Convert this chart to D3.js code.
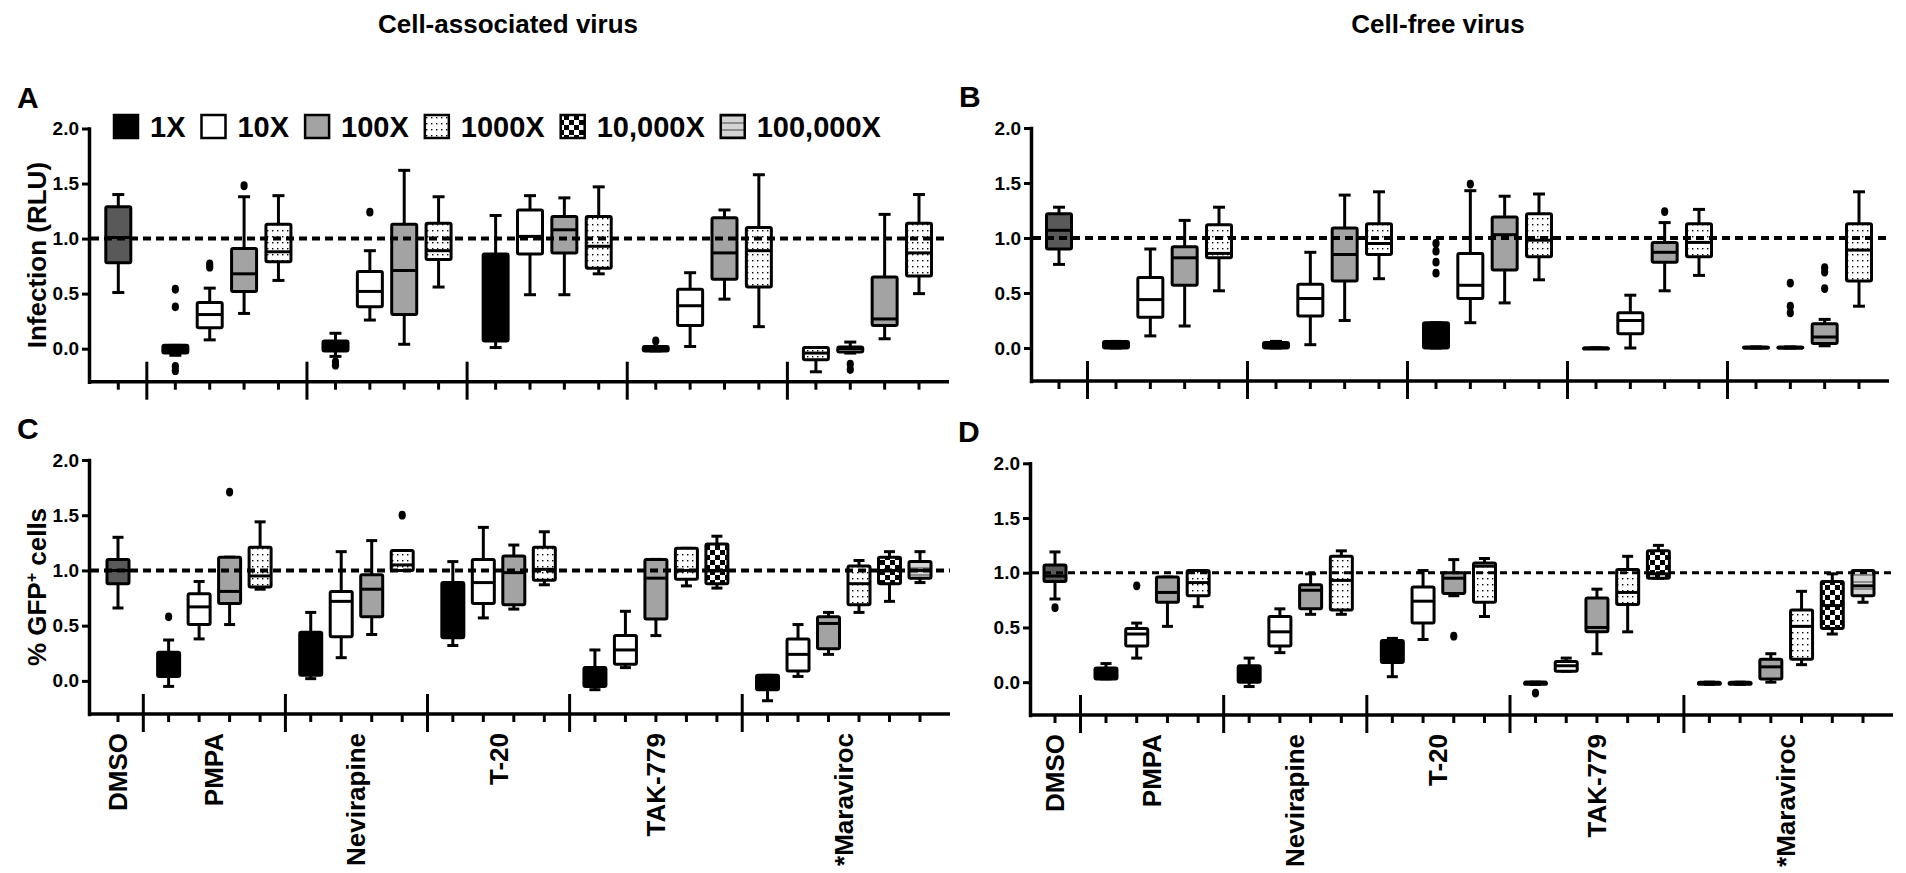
<!DOCTYPE html>
<html>
<head>
<meta charset="utf-8">
<script src="https://cdn.jsdelivr.net/npm/d3@7"></script>
<style>
  body { margin: 0; background: #fff; }
  text { font-family: "Liberation Sans", Arial, sans-serif; font-weight: bold; fill: #000; }
  .narrow { font-family: "Liberation Sans Narrow", "Arial Narrow", "Liberation Sans", sans-serif; }
</style>
</head>
<body>
<svg id="chart" width="1906" height="873"></svg>
<script>
// ---- data ----
const groupNames = ["DMSO", "PMPA", "Nevirapine", "T-20", "TAK-779", "*Maraviroc"]
const dilutionLabels = ["1X", "10X", "100X", "1000X", "10,000X", "100,000X"]
const groupSizesTop = [1, 4, 4, 4, 4, 4]
const groupSizesBottom = [1, 4, 4, 4, 5, 6]
const yTicks = [0, 0.5, 1.0, 1.5, 2.0]

// [whisker low, q1, median, q3, whisker high]
const statsA = [
  [0.51, 0.78, 1.01, 1.29, 1.40],
  [-0.06, -0.04, -0.01, 0.03, 0.03], [0.08, 0.19, 0.31, 0.42, 0.55], [0.32, 0.52, 0.68, 0.91, 1.38], [0.62, 0.79, 0.88, 1.13, 1.39],
  [-0.07, -0.02, 0.03, 0.07, 0.14], [0.26, 0.38, 0.52, 0.70, 0.89], [0.04, 0.31, 0.71, 1.13, 1.62], [0.56, 0.81, 0.89, 1.14, 1.38],
  [0.01, 0.07, 0.50, 0.86, 1.21], [0.49, 0.86, 1.02, 1.26, 1.39], [0.49, 0.87, 1.08, 1.20, 1.37], [0.68, 0.73, 0.93, 1.20, 1.47],
  [-0.02, -0.02, 0.0, 0.02, 0.02], [0.02, 0.21, 0.39, 0.54, 0.69], [0.45, 0.63, 0.87, 1.19, 1.26], [0.20, 0.56, 0.89, 1.10, 1.58],
  [-0.21, -0.10, -0.04, 0.01, 0.01], [-0.04, -0.03, 0.0, 0.015, 0.06], [0.09, 0.21, 0.27, 0.65, 1.22], [0.50, 0.66, 0.87, 1.14, 1.40]
]
const outliersA = [[1, 0.54], [1, 0.38], [1, -0.16], [1, -0.20], [2, 0.77], [2, 0.74], [3, 1.48],
  [5, -0.12], [5, -0.15], [6, 1.24], [13, 0.07], [18, -0.14], [18, -0.19]]
const typeOverridesA = [[17, "1000X"]]

const statsB = [
  [0.76, 0.90, 1.07, 1.22, 1.28],
  [0.0, 0.0, 0.02, 0.06, 0.06], [0.11, 0.28, 0.44, 0.64, 0.90], [0.20, 0.57, 0.82, 0.92, 1.16], [0.52, 0.82, 0.86, 1.12, 1.28],
  [0.0, 0.0, 0.02, 0.05, 0.06], [0.03, 0.29, 0.45, 0.58, 0.87], [0.25, 0.61, 0.85, 1.09, 1.39], [0.63, 0.85, 0.95, 1.13, 1.42],
  [0.0, 0.0, 0.05, 0.23, 0.23], [0.23, 0.45, 0.57, 0.86, 1.43], [0.41, 0.71, 1.03, 1.19, 1.38], [0.62, 0.83, 0.98, 1.22, 1.40],
  [0.0, 0.0, 0.0, 0.0, 0.0], [0.0, 0.13, 0.25, 0.32, 0.48], [0.52, 0.78, 0.87, 0.96, 1.14], [0.66, 0.83, 0.96, 1.13, 1.26],
  [0.0, 0.0, 0.0, 0.01, 0.01], [0.0, 0.0, 0.0, 0.01, 0.01], [0.02, 0.04, 0.10, 0.22, 0.26], [0.38, 0.61, 0.89, 1.13, 1.42]
]
const outliersB = [[9, 0.95], [9, 0.88], [9, 0.78], [9, 0.68], [10, 1.49], [15, 1.24],
  [18, 0.59], [18, 0.38], [18, 0.32], [19, 0.73], [19, 0.69], [19, 0.54]]

const statsC = [
  [0.66, 0.88, 1.0, 1.10, 1.30],
  [-0.05, 0.04, 0.15, 0.26, 0.37], [0.38, 0.51, 0.67, 0.79, 0.90], [0.51, 0.70, 0.81, 1.12, 1.12], [0.83, 0.85, 0.95, 1.21, 1.44],
  [0.02, 0.05, 0.20, 0.44, 0.62], [0.21, 0.40, 0.72, 0.81, 1.17], [0.42, 0.58, 0.83, 0.96, 1.27], [1.0, 1.0, 1.05, 1.18, 1.18],
  [0.32, 0.39, 0.67, 0.89, 1.08], [0.57, 0.70, 0.89, 1.10, 1.39], [0.65, 0.69, 0.98, 1.13, 1.23], [0.87, 0.91, 1.01, 1.21, 1.35],
  [-0.08, -0.05, 0.02, 0.12, 0.28], [0.12, 0.15, 0.28, 0.41, 0.63], [0.41, 0.56, 0.93, 1.10, 1.10], [0.86, 0.92, 1.0, 1.20, 1.20], [0.84, 0.88, 1.0, 1.24, 1.31],
  [-0.18, -0.08, -0.02, 0.05, 0.05], [0.04, 0.09, 0.24, 0.38, 0.51], [0.24, 0.29, 0.52, 0.58, 0.62], [0.62, 0.69, 0.88, 1.04, 1.09], [0.72, 0.88, 1.0, 1.12, 1.17], [0.89, 0.93, 1.0, 1.08, 1.17]
]
const outliersC = [[1, 0.58], [3, 1.71], [8, 1.50]]

const statsD = [
  [0.76, 0.92, 0.97, 1.07, 1.19],
  [0.03, 0.03, 0.08, 0.13, 0.17], [0.22, 0.33, 0.44, 0.49, 0.54], [0.51, 0.73, 0.82, 0.96, 0.96], [0.69, 0.79, 0.91, 1.02, 1.02],
  [-0.04, 0.0, 0.08, 0.15, 0.22], [0.27, 0.33, 0.46, 0.60, 0.67], [0.62, 0.67, 0.84, 0.89, 0.99], [0.62, 0.66, 0.93, 1.15, 1.20],
  [0.05, 0.18, 0.30, 0.38, 0.40], [0.39, 0.54, 0.74, 0.87, 1.02], [0.79, 0.81, 0.95, 1.0, 1.12], [0.60, 0.73, 1.06, 1.09, 1.13],
  [-0.02, -0.02, 0.0, 0.0, 0.0], [0.10, 0.10, 0.15, 0.19, 0.22], [0.26, 0.46, 0.50, 0.77, 0.85], [0.46, 0.71, 0.82, 1.03, 1.15], [0.95, 0.95, 0.99, 1.20, 1.25],
  [-0.02, -0.02, -0.01, 0.0, 0.0], [-0.02, -0.02, -0.01, 0.0, 0.0], [0.0, 0.03, 0.14, 0.21, 0.26], [0.16, 0.21, 0.51, 0.66, 0.83], [0.44, 0.49, 0.70, 0.92, 0.99], [0.73, 0.79, 0.88, 1.02, 1.02]
]
const outliersD = [[0, 0.68], [2, 0.88], [11, 0.42], [13, -0.10]]

// ---- drawing ----
const svg = d3.select("#chart")
const defs = svg.append("defs")

let pat = defs.append("pattern").attr("id", "dots").attr("patternUnits", "userSpaceOnUse")
  .attr("width", 5).attr("height", 6)
pat.append("rect").attr("width", 5).attr("height", 6).attr("fill", "#fff")
pat.append("rect").attr("x", 2).attr("y", 2).attr("width", 1.4).attr("height", 1.4).attr("fill", "#000")

pat = defs.append("pattern").attr("id", "checker").attr("patternUnits", "userSpaceOnUse")
  .attr("width", 10).attr("height", 10)
pat.append("rect").attr("width", 10).attr("height", 10).attr("fill", "#fff")
pat.append("rect").attr("width", 5).attr("height", 5).attr("fill", "#000")
pat.append("rect").attr("x", 5).attr("y", 5).attr("width", 5).attr("height", 5).attr("fill", "#000")

pat = defs.append("pattern").attr("id", "stripes").attr("patternUnits", "userSpaceOnUse")
  .attr("width", 4).attr("height", 7)
pat.append("rect").attr("width", 4).attr("height", 7).attr("fill", "#d4d4d4")
pat.append("rect").attr("width", 4).attr("height", 2).attr("fill", "#8c8c8c")

function fillFor(type) {
  if (type == "dmso") return "#595959"
  if (type == "1X") return "#000"
  if (type == "10X") return "#fff"
  if (type == "100X") return "#a3a3a3"
  if (type == "1000X") return "url(#dots)"
  if (type == "10,000X") return "url(#checker)"
  return "url(#stripes)"
}

const GAP = 1.66

function layoutSlots(sizes) {
  let slots = [], types = [], seps = [], centers = []
  let u = 0
  sizes.forEach((n, g) => {
    if (g > 0) {
      seps.push(u + GAP / 2)
      u += GAP
    }
    let first = u
    for (let k = 0; k < n; k++) {
      if (k > 0) u += 1
      slots.push(u)
      types.push(g == 0 ? "dmso" : dilutionLabels[k])
    }
    centers.push((first + u) / 2)
  })
  return { slots, types, seps, centers, total: u }
}

const panels = [
  { id: "A", stats: statsA, outliers: outliersA, overrides: typeOverridesA, sizes: groupSizesTop,
    axisX: 89, x0: 118.3, x1: 919, yBottom: 381.7, yTop: 128.5, boxW: 25, capW: 12,
    dashW: 4, dash: "8 5", ylabel: "Infection (RLU)", labels: false },
  { id: "B", stats: statsB, outliers: outliersB, overrides: [], sizes: groupSizesTop,
    axisX: 1031, x0: 1059, x1: 1859, yBottom: 381, yTop: 128, boxW: 25, capW: 12,
    dashW: 4, dash: "8 5", ylabel: null, labels: false },
  { id: "C", stats: statsC, outliers: outliersC, overrides: [], sizes: groupSizesBottom,
    axisX: 89, x0: 118, x1: 920, yBottom: 714, yTop: 460, boxW: 22, capW: 11,
    dashW: 4, dash: "8 5", ylabel: "GFP", labels: true },
  { id: "D", stats: statsD, outliers: outliersD, overrides: [], sizes: groupSizesBottom,
    axisX: 1030, x0: 1055, x1: 1863, yBottom: 715, yTop: 463.3, boxW: 22, capW: 11,
    dashW: 3, dash: "7 5", ylabel: null, labels: true }
]

function drawPanel(cfg) {
  const g = svg.append("g").attr("class", "panel-" + cfg.id)
  const lay = layoutSlots(cfg.sizes)
  const x = d3.scaleLinear().domain([0, lay.total]).range([cfg.x0, cfg.x1])
  const y = d3.scaleLinear().domain([-0.3, 2]).range([cfg.yBottom, cfg.yTop])
  const xEnd = cfg.x1 + 30
  const types = lay.types.slice()
  cfg.overrides.forEach(([i, t]) => types[i] = t)

  const boxes = cfg.stats.map((s, i) => ({
    lo: s[0], q1: s[1], med: s[2], q3: s[3], hi: s[4], cx: x(lay.slots[i]), type: types[i]
  }))

  // y axis
  const yAxis = g.append("g").attr("transform", `translate(${cfg.axisX},0)`)
    .call(d3.axisLeft(y).tickValues(yTicks).tickFormat(d3.format(".1f")).tickSize(7).tickSizeOuter(0))
  yAxis.select(".domain").attr("stroke-width", 3.5).attr("stroke-linecap", "square")
  yAxis.selectAll(".tick line").attr("stroke-width", 3)
  yAxis.selectAll(".tick text").attr("class", "narrow").attr("x", -10)
    .style("font-size", "19px").style("font-weight", "bold").attr("fill", "#000")
    .attr("font-family", null)

  // x axis
  g.append("line").attr("x1", cfg.axisX).attr("x2", xEnd)
    .attr("y1", cfg.yBottom).attr("y2", cfg.yBottom)
    .attr("stroke", "#000").attr("stroke-width", 3.5)
  g.selectAll(".xtick").data(lay.slots).enter().append("line")
    .attr("x1", d => x(d)).attr("x2", d => x(d))
    .attr("y1", cfg.yBottom).attr("y2", cfg.yBottom + 8)
    .attr("stroke", "#000").attr("stroke-width", 3)
  g.selectAll(".xsep").data(lay.seps).enter().append("line")
    .attr("x1", d => x(d)).attr("x2", d => x(d))
    .attr("y1", cfg.yBottom - 20).attr("y2", cfg.yBottom + 18)
    .attr("stroke", "#000").attr("stroke-width", 3)

  // whiskers
  const bx = g.selectAll(".box").data(boxes).enter().append("g")
  bx.append("line").attr("x1", d => d.cx).attr("x2", d => d.cx)
    .attr("y1", d => y(d.lo)).attr("y2", d => y(d.hi))
    .attr("stroke", "#000").attr("stroke-width", 3)
  bx.append("line").attr("x1", d => d.cx - cfg.capW / 2).attr("x2", d => d.cx + cfg.capW / 2)
    .attr("y1", d => y(d.lo)).attr("y2", d => y(d.lo))
    .attr("stroke", "#000").attr("stroke-width", 3)
  bx.append("line").attr("x1", d => d.cx - cfg.capW / 2).attr("x2", d => d.cx + cfg.capW / 2)
    .attr("y1", d => y(d.hi)).attr("y2", d => y(d.hi))
    .attr("stroke", "#000").attr("stroke-width", 3)
  bx.append("rect").attr("x", d => d.cx - cfg.boxW / 2).attr("width", cfg.boxW)
    .attr("y", d => y(d.q3)).attr("height", d => Math.max(1, y(d.q1) - y(d.q3)))
    .attr("rx", 1.5)
    .attr("fill", d => fillFor(d.type)).attr("stroke", "#000").attr("stroke-width", 3)
  bx.append("line").attr("x1", d => d.cx - cfg.boxW / 2).attr("x2", d => d.cx + cfg.boxW / 2)
    .attr("y1", d => y(d.med)).attr("y2", d => y(d.med))
    .attr("stroke", "#000").attr("stroke-width", 3)

  // outliers
  g.selectAll(".out").data(cfg.outliers).enter().append("ellipse")
    .attr("cx", d => boxes[d[0]].cx).attr("cy", d => y(d[1]))
    .attr("rx", 3.6).attr("ry", 4.4).attr("fill", "#000")

  // reference line at 1.0
  g.append("line").attr("x1", cfg.axisX + 2).attr("x2", xEnd)
    .attr("y1", y(1)).attr("y2", y(1))
    .attr("stroke", "#000").attr("stroke-width", cfg.dashW).attr("stroke-dasharray", cfg.dash)

  // panel letter
  g.append("text").attr("class", "narrow").attr("x", cfg.axisX - 72).attr("y", y(2) - 21)
    .style("font-size", "30px").text(cfg.id)

  // y label
  if (cfg.ylabel) {
    const t = g.append("text")
      .attr("transform", `translate(46,${(cfg.yTop + cfg.yBottom) / 2}) rotate(-90)`)
      .attr("text-anchor", "middle").style("font-size", "26px")
    if (cfg.ylabel == "GFP") {
      t.append("tspan").text("% GFP")
      t.append("tspan").attr("dy", -9).style("font-size", "16px").text("+")
      t.append("tspan").attr("dy", 9).text(" cells")
    } else {
      t.text(cfg.ylabel)
    }
  }

  // category labels
  if (cfg.labels) {
    g.selectAll(".cat").data(groupNames).enter().append("text")
      .attr("transform", (d, i) => `translate(${x(lay.centers[i]) + 9},${cfg.yBottom + 19}) rotate(-90)`)
      .attr("text-anchor", "end").style("font-size", "26px").text(d => d)
  }
}

panels.forEach(drawPanel)

// titles
svg.append("text").attr("x", 508).attr("y", 33).attr("text-anchor", "middle")
  .style("font-size", "26px").text("Cell-associated virus")
svg.append("text").attr("x", 1438).attr("y", 33).attr("text-anchor", "middle")
  .style("font-size", "26px").text("Cell-free virus")

// legend
const legend = svg.append("g").attr("transform", "translate(114,115)")
let lx = 0
dilutionLabels.forEach(lab => {
  legend.append("rect").attr("x", lx).attr("y", 0).attr("width", 24).attr("height", 23)
    .attr("fill", fillFor(lab)).attr("stroke", "#000").attr("stroke-width", 2.5)
  const t = legend.append("text").attr("x", lx + 36).attr("y", 22)
    .attr("class", "narrow").style("font-size", "29px").text(lab)
  lx = lx + 36 + t.node().getComputedTextLength() + 16
})
</script>
</body>
</html>
